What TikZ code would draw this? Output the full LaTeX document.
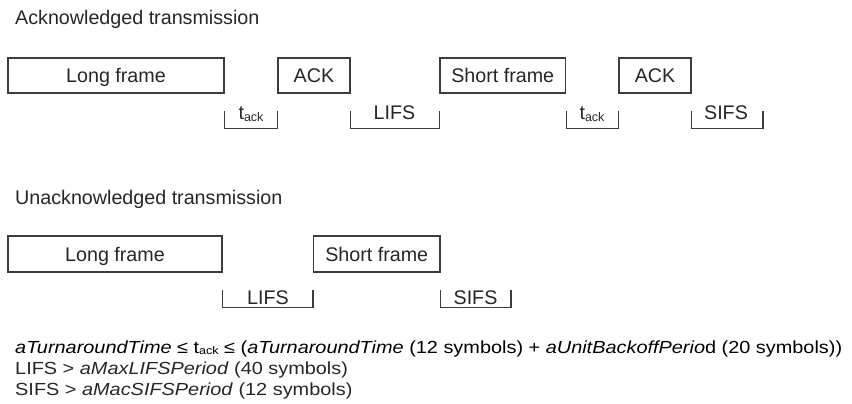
\documentclass[tikz,border=0pt]{standalone}
\usepackage{fontspec}
\setmainfont{Liberation Sans}
\usepackage{graphicx}
\definecolor{linec}{HTML}{3C3C3C}
\definecolor{txtc}{HTML}{262626}
\newcommand\mainsz{\fontsize{19.7}{23}\selectfont}
\newcommand\botsz{\fontsize{17.5}{21}\selectfont}
\newcommand\tsub[2]{t\raisebox{-#2}{\fontsize{#1}{#1}\selectfont ack}}
\newsavebox\lineonebox
\newlength\lineonelen
\begin{document}
\sbox\lineonebox{\botsz\textit{aTurnaroundTime} ≤ \tsub{11}{1.5pt} ≤ (\textit{aTurnaroundTime} (12 symbols) + \textit{aUnitBackoffPerio}d (20 symbols))}%
\setlength\lineonelen{\wd\lineonebox}%
\pgfmathsetmacro\bfac{827/\lineonelen}%
\begin{tikzpicture}[x=1pt,y=-1pt,
  frame/.style={draw=linec, line width=1.2pt, inner sep=0pt, text height=14.1pt, text depth=0pt, font=\mainsz, text=txtc},
  bracket/.style={draw=linec, line width=1.2pt},
  lbl/.style={anchor=base, inner sep=0pt, font=\mainsz, text=txtc},
  ttl/.style={anchor=base west, inner sep=0pt, font=\mainsz, text=txtc},
  note/.style={anchor=base west, inner sep=0pt, text=txtc}]
\useasboundingbox (0,0) rectangle (852,404);
% titles
\node[ttl] (t1) at (15,25) {Acknowledged transmission};
\node[ttl] (t2) at (15,204.5) {Unacknowledged transmission};
% row 1 frames
\node[frame, minimum width=216pt, minimum height=35pt] (lf1) at (116,75.5) {Long frame};
\node[frame, minimum width=72pt, minimum height=35pt] (ack1) at (314,75.5) {ACK};
\node[frame, minimum width=125.5pt, minimum height=35pt] (sf1) at (502.75,75.5) {Short frame};
\node[frame, minimum width=72pt, minimum height=35pt] (ack2) at (655,75.5) {ACK};
% row 2 frames
\node[frame, minimum width=214pt, minimum height=36pt] (lf2) at (115,254) {Long frame};
\node[frame, minimum width=126.5pt, minimum height=36pt] (sf2) at (376.75,254) {Short frame};
% bracket levels
\coordinate (ra) at (0,111);
\coordinate (rb) at (0,128.5);
\coordinate (sa) at (0,290);
\coordinate (sb) at (0,307.5);
\coordinate (sifsend1) at (763,128.5);
\coordinate (sifsend2) at (511,307.5);
% row 1 brackets
\draw[bracket] (lf1.south east |- ra) -- (lf1.south east |- rb) -- (ack1.south west |- rb) -- (ack1.south west |- ra);
\draw[bracket] (ack1.south east |- ra) -- (ack1.south east |- rb) -- (sf1.south west |- rb) -- (sf1.south west |- ra);
\draw[bracket] (sf1.south east |- ra) -- (sf1.south east |- rb) -- (ack2.south west |- rb) -- (ack2.south west |- ra);
\draw[bracket] (ack2.south east |- ra) -- (ack2.south east |- rb) -- (sifsend1) -- (sifsend1 |- ra);
% row 2 brackets
\draw[bracket] (lf2.south east |- sa) -- (lf2.south east |- sb) -- (sf2.south west |- sb) -- (sf2.south west |- sa);
\draw[bracket] (sf2.south east |- sa) -- (sf2.south east |- sb) -- (sifsend2) -- (sifsend2 |- sa);
% bracket labels
\node[lbl] (l1) at (251,119.5) {\tsub{12.5}{2pt}};
\node[lbl] (l2) at (394.5,119.5) {LIFS};
\node[lbl] (l3) at (592,119.5) {\tsub{12.5}{2pt}};
\node[lbl] (l4) at (726,119.5) {SIFS};
\node[lbl] (l5) at (268,304) {LIFS};
\node[lbl] (l6) at (475.5,304) {SIFS};
% notes
\node[note] (n1) at (15,353) {\scalebox{\bfac}[1]{\usebox\lineonebox}};
\node[note] (n2) at (15,374) {\scalebox{\bfac}[1]{\botsz LIFS > \textit{aMaxLIFSPeriod} (40 symbols)}};
\node[note] (n3) at (15,395) {\scalebox{\bfac}[1]{\botsz SIFS > \textit{aMacSIFSPeriod} (12 symbols)}};
\end{tikzpicture}
\end{document}
